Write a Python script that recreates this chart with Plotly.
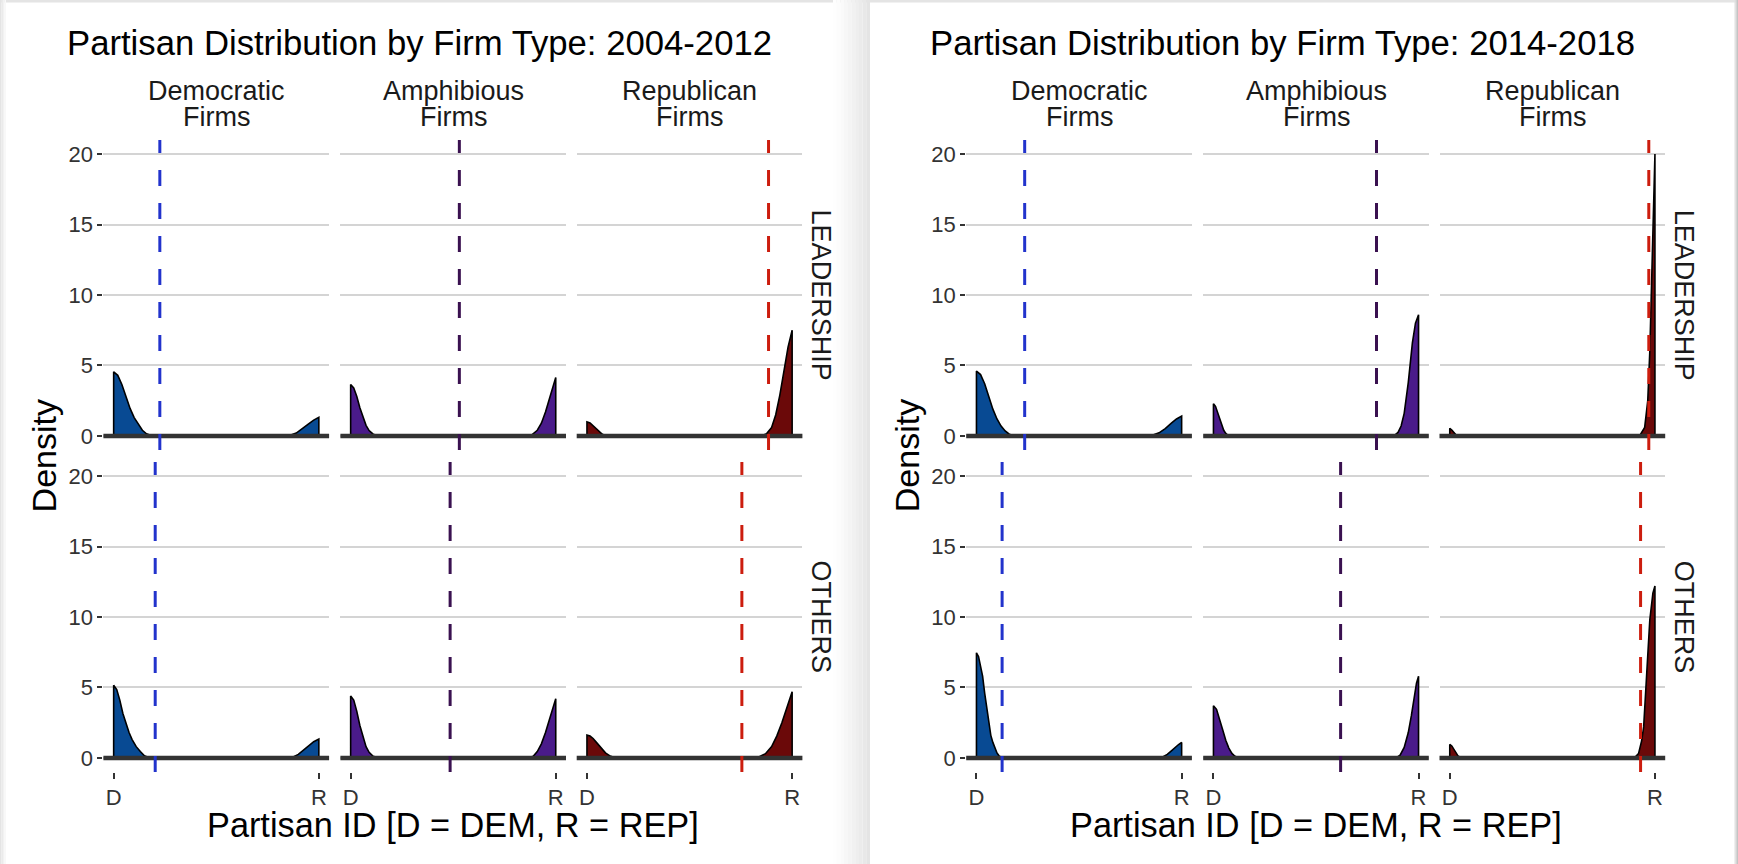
import plotly.graph_objects as go

W, H = 1738, 864

# ---------------- data ----------------
periods = ["2004-2012", "2014-2018"]
firm_line1 = ["Democratic", "Amphibious", "Republican"]
firm_line2 = ["Firms", "Firms", "Firms"]
roles = ["LEADERSHIP", "OTHERS"]
tick_vals_x = [-1, 1]
tick_text_x = ["D", "R"]
tick_vals_y = [0, 5, 10, 15, 20]

# 2004-2012, LEADERSHIP
x_lead_dem_0412 = [-1, -0.96, -0.92, -0.88, -0.84, -0.80, -0.76, -0.72, -0.68, -0.64, -0.60,
                   0.66, 0.72, 0.78, 0.84, 0.90, 0.95, 1.0]
y_lead_dem_0412 = [4.55, 4.3, 3.65, 2.8, 1.95, 1.3, 0.8, 0.4, 0.15, 0.04, 0,
                   0, 0.05, 0.2, 0.5, 0.85, 1.12, 1.32]
x_lead_amp_0412 = [-1, -0.97, -0.94, -0.91, -0.88, -0.85, -0.82, -0.78, -0.74, -0.70,
                   0.72, 0.77, 0.82, 0.86, 0.90, 0.94, 0.97, 1.0]
y_lead_amp_0412 = [3.65, 3.4, 2.8, 2.0, 1.3, 0.75, 0.38, 0.12, 0.03, 0,
                   0, 0.1, 0.4, 0.9, 1.7, 2.7, 3.5, 4.15]
x_lead_rep_0412 = [-1, -0.97, -0.94, -0.91, -0.88, -0.85, -0.82, -0.78,
                   0.70, 0.75, 0.80, 0.84, 0.88, 0.92, 0.96, 1.0]
y_lead_rep_0412 = [1.0, 0.92, 0.72, 0.48, 0.26, 0.11, 0.03, 0,
                   0, 0.15, 0.6, 1.5, 2.9, 4.6, 6.3, 7.5]
# 2004-2012, OTHERS
x_oth_dem_0412 = [-1, -0.97, -0.94, -0.91, -0.88, -0.85, -0.82, -0.78, -0.74, -0.70, -0.66, -0.62,
                  0.70, 0.75, 0.80, 0.85, 0.90, 0.95, 1.0]
y_oth_dem_0412 = [5.15, 4.85, 4.1, 3.15, 2.4, 1.8, 1.3, 0.8, 0.45, 0.15, 0.03, 0,
                  0, 0.06, 0.25, 0.55, 0.88, 1.15, 1.34]
x_oth_amp_0412 = [-1, -0.97, -0.94, -0.91, -0.88, -0.85, -0.82, -0.78, -0.74, -0.70,
                  0.73, 0.78, 0.82, 0.86, 0.90, 0.94, 0.97, 1.0]
y_oth_amp_0412 = [4.4, 4.1, 3.3, 2.3, 1.45, 0.8, 0.4, 0.12, 0.03, 0,
                  0, 0.12, 0.45, 1.0, 1.8, 2.8, 3.6, 4.2]
x_oth_rep_0412 = [-1, -0.97, -0.94, -0.91, -0.88, -0.85, -0.82, -0.78, -0.74, -0.70,
                  0.62, 0.68, 0.74, 0.80, 0.85, 0.90, 0.95, 1.0]
y_oth_rep_0412 = [1.62, 1.55, 1.38, 1.12, 0.85, 0.58, 0.36, 0.16, 0.05, 0,
                  0, 0.08, 0.3, 0.8, 1.55, 2.5, 3.6, 4.7]
# 2014-2018, LEADERSHIP
x_lead_dem_1418 = [-1, -0.96, -0.92, -0.88, -0.84, -0.80, -0.76, -0.72, -0.68, -0.64, -0.60,
                   0.66, 0.72, 0.78, 0.84, 0.90, 0.95, 1.0]
y_lead_dem_1418 = [4.6, 4.35, 3.7, 2.8, 1.9, 1.2, 0.7, 0.35, 0.12, 0.03, 0,
                   0, 0.06, 0.22, 0.52, 0.9, 1.2, 1.41]
x_lead_amp_1418 = [-1, -0.98, -0.96, -0.94, -0.92, -0.90, -0.88, -0.86, -0.83,
                   0.76, 0.80, 0.83, 0.86, 0.90, 0.94, 0.97, 1.0]
y_lead_amp_1418 = [2.28, 2.1, 1.7, 1.2, 0.75, 0.4, 0.18, 0.06, 0,
                   0, 0.25, 0.7, 1.6, 3.8, 6.6, 8.0, 8.6]
x_lead_rep_1418 = [-1, -0.98, -0.96, -0.94, -0.92,
                   0.85, 0.90, 0.93, 0.95, 0.97, 0.985, 1.0]
y_lead_rep_1418 = [0.54, 0.42, 0.22, 0.08, 0,
                   0, 0.6, 2.5, 6.0, 12.0, 17.0, 20.0]
# 2014-2018, OTHERS
x_oth_dem_1418 = [-1, -0.98, -0.96, -0.94, -0.92, -0.90, -0.88, -0.86, -0.84, -0.82, -0.80, -0.78, -0.76, -0.73,
                  0.78, 0.82, 0.86, 0.90, 0.94, 0.97, 1.0]
y_oth_dem_1418 = [7.46, 7.2, 6.6, 5.8, 4.6, 3.5, 2.5, 1.6, 1.1, 0.65, 0.35, 0.15, 0.05, 0,
                  0, 0.08, 0.25, 0.5, 0.78, 0.95, 1.1]
x_oth_amp_1418 = [-1, -0.97, -0.94, -0.91, -0.88, -0.85, -0.82, -0.79, -0.76, -0.73,
                  0.78, 0.82, 0.86, 0.90, 0.93, 0.96, 0.98, 1.0]
y_oth_amp_1418 = [3.7, 3.45, 2.8, 2.0, 1.25, 0.7, 0.32, 0.12, 0.03, 0,
                  0, 0.2, 0.75, 1.8, 3.0, 4.4, 5.3, 5.8]
x_oth_rep_1418 = [-1, -0.98, -0.96, -0.94, -0.92, -0.90, -0.87,
                  0.80, 0.84, 0.87, 0.89, 0.92, 0.95, 0.98, 1.0]
y_oth_rep_1418 = [0.96, 0.85, 0.6, 0.35, 0.15, 0.05, 0,
                  0, 0.3, 1.2, 2.2, 6.0, 9.8, 11.7, 12.2]

# mean partisan ID (dashed lines): [Dem, Amph, Rep]
mean_lead_0412 = [-0.55, 0.06, 0.77]
mean_oth_0412 = [-0.595, -0.03, 0.51]
mean_lead_1418 = [-0.53, 0.59, 0.94]
mean_oth_1418 = [-0.75, 0.24, 0.86]

curves = {
    (0, 0): [(x_lead_dem_0412, y_lead_dem_0412), (x_lead_amp_0412, y_lead_amp_0412), (x_lead_rep_0412, y_lead_rep_0412)],
    (0, 1): [(x_oth_dem_0412, y_oth_dem_0412), (x_oth_amp_0412, y_oth_amp_0412), (x_oth_rep_0412, y_oth_rep_0412)],
    (1, 0): [(x_lead_dem_1418, y_lead_dem_1418), (x_lead_amp_1418, y_lead_amp_1418), (x_lead_rep_1418, y_lead_rep_1418)],
    (1, 1): [(x_oth_dem_1418, y_oth_dem_1418), (x_oth_amp_1418, y_oth_amp_1418), (x_oth_rep_1418, y_oth_rep_1418)],
}
means = {(0, 0): mean_lead_0412, (0, 1): mean_oth_0412, (1, 0): mean_lead_1418, (1, 1): mean_oth_1418}

# ---------------- styles ----------------
fill_colors = ["#084a93", "#4a1b8a", "#6b0909"]
mean_colors = ["#2233cc", "#3a1150", "#cc1d0e"]
FONT = "Liberation Sans, Arial, Helvetica, sans-serif"
TXT = "#1a1a1a"
TICK = "#333333"

# pixel layout
chart_offset = [0.0, 862.8]
col_base = [(103.4, 329.1), (340.4, 566.0), (576.7, 802.4)]
col_px = [[(a + off, b + off) for a, b in col_base] for off in chart_offset]
row_px = [(140, 450), (462, 772)]


def px(xp):
    return xp / W


def py(yp):
    return 1 - yp / H


fig = go.Figure()
layout = dict(
    width=W, height=H, margin=dict(l=0, r=0, t=0, b=0),
    paper_bgcolor="white", plot_bgcolor="rgba(0,0,0,0)",
    showlegend=False, font=dict(family=FONT, color=TXT),
)
shapes = []
annotations = []

idx = 0
for c in range(2):
    for r in range(2):
        for k in range(3):
            idx += 1
            xa = "x" if idx == 1 else f"x{idx}"
            ya = "y" if idx == 1 else f"y{idx}"
            xl, xr = col_px[c][k]
            yt, yb = row_px[r]
            layout["xaxis" if idx == 1 else f"xaxis{idx}"] = dict(
                domain=[px(xl), px(xr)], anchor=ya, range=[-1.1, 1.1],
                tickvals=tick_vals_x, ticktext=tick_text_x,
                showticklabels=(r == 1), ticks=("outside" if r == 1 else ""),
                ticklen=6, tickwidth=1.5, tickcolor="#333333",
                tickfont=dict(size=22, color=TICK, family=FONT),
                showgrid=False, zeroline=False, showline=False, fixedrange=True,
            )
            layout["yaxis" if idx == 1 else f"yaxis{idx}"] = dict(
                domain=[py(yb), py(yt)], anchor=xa, range=[-1, 21],
                tickvals=tick_vals_y, showticklabels=(k == 0),
                ticks=("outside" if k == 0 else ""),
                ticklen=5, tickwidth=1.5, tickcolor="#333333",
                tickfont=dict(size=22, color=TICK, family=FONT),
                showgrid=True, gridcolor="#d4d4d4", gridwidth=2,
                zeroline=False, showline=False, fixedrange=True,
            )
            cx, cy = curves[(c, r)][k]
            fig.add_trace(go.Scatter(
                x=[cx[0]] + cx + [cx[-1]], y=[0] + cy + [0], xaxis=xa, yaxis=ya,
                mode="lines", fill="toself", fillcolor=fill_colors[k],
                line=dict(color="black", width=1.6), hoverinfo="skip",
            ))
            # baseline at 0
            shapes.append(dict(type="line", xref=f"{xa} domain", yref=ya,
                               x0=0, x1=1, y0=0, y1=0,
                               line=dict(color="#333333", width=4.5), layer="above"))
            # mean dashed line
            m = means[(c, r)][k]
            shapes.append(dict(type="line", xref=xa, yref=f"{ya} domain",
                               x0=m, x1=m, y0=0, y1=1,
                               line=dict(color=mean_colors[k], width=3, dash="16px,17px"),
                               layer="above"))

# titles and strip labels
for c in range(2):
    off = chart_offset[c]
    annotations.append(dict(
        text=f"Partisan Distribution by Firm Type: {periods[c]}",
        xref="paper", yref="paper", x=px(65 + off), y=py(43),
        xanchor="left", yanchor="middle", showarrow=False,
        font=dict(size=34.7, color="black", family=FONT)))
    for k in range(3):
        xl, xr = col_px[c][k]
        for txt, yy in ((firm_line1[k], 91), (firm_line2[k], 117)):
            annotations.append(dict(
                text=txt, xref="paper", yref="paper",
                x=px((xl + xr) / 2), y=py(yy), xanchor="center", yanchor="middle",
                showarrow=False, font=dict(size=27, color=TXT, family=FONT)))
    for r in range(2):
        yt, yb = row_px[r]
        annotations.append(dict(
            text=roles[r], xref="paper", yref="paper",
            x=px(col_px[c][2][1] + 19), y=py((yt + yb) / 2),
            xanchor="center", yanchor="middle", textangle=90, showarrow=False,
            font=dict(size=27, color=TXT, family=FONT)))
    # axis titles
    annotations.append(dict(
        text="Density", xref="paper", yref="paper",
        x=px(col_px[c][0][0] - 59), y=py((row_px[0][0] + row_px[1][1]) / 2),
        xanchor="center", yanchor="middle", textangle=-90, showarrow=False,
        font=dict(size=34, color="black", family=FONT)))
    annotations.append(dict(
        text="Partisan ID [D = DEM, R = REP]", xref="paper", yref="paper",
        x=px((col_px[c][0][0] + col_px[c][2][1]) / 2), y=py(825),
        xanchor="center", yanchor="middle", showarrow=False,
        font=dict(size=34.3, color="black", family=FONT)))

# page frame (screenshot edges)
def rect(x0, x1, y0, y1, color):
    shapes.append(dict(type="rect", xref="paper", yref="paper",
                       x0=px(x0), x1=px(x1), y0=py(y1), y1=py(y0),
                       fillcolor=color, line=dict(width=0), layer="below"))

rect(0, W, 0, 2.5, "#e4e4e4")
for i, col in enumerate(["#e4e4e4", "#ebebeb", "#f2f2f2", "#f8f8f8"]):
    rect(i * 1.5, i * 1.5 + 1.5, 0, H, col)
mid_cols = ["#fefefe", "#fcfcfc", "#fafafa", "#f7f7f7", "#f4f4f4", "#f1f1f1",
            "#eeeeee", "#ebebeb", "#e8e8e8", "#e4e4e4"]
for i, col in enumerate(mid_cols):
    rect(833 + i * 3.7, 833 + (i + 1) * 3.7, 0, H, col)
for i, col in enumerate(["#e0e0e0", "#d2d2d2", "#c4c4c4"]):
    rect(1734.5 + i * 1.2, 1734.5 + (i + 1) * 1.2, 0, H, col)

layout["shapes"] = shapes
layout["annotations"] = annotations
fig.update_layout(**layout)

fig.write_html("out.html", config={"displayModeBar": False},
               post_script="document.body.style.margin='0';document.body.style.overflow='hidden';")
